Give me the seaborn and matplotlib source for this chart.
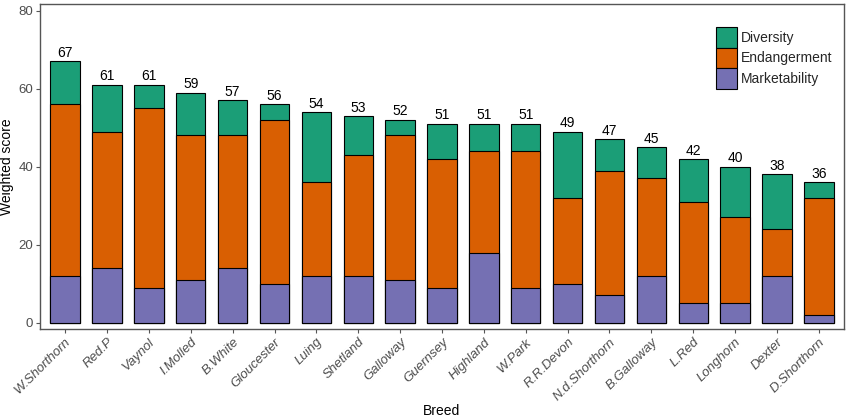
import matplotlib
matplotlib.use("Agg")
import matplotlib.pyplot as plt
import matplotlib.patches as mpatches
import numpy as np
import seaborn as sns

breeds = ["W.Shorthorn", "Red.P", "Vaynol", "I.Molled", "B.White", "Gloucester",
          "Luing", "Shetland", "Galloway", "Guernsey", "Highland", "W.Park",
          "R.R.Devon", "N.d.Shorthorn", "B.Galloway", "L.Red", "Longhorn",
          "Dexter", "D.Shorthorn"]
marketability = [12, 14, 9, 11, 14, 10, 12, 12, 11, 9, 18, 9, 10, 7, 12, 5, 5, 12, 2]
endangerment = [44, 35, 46, 37, 34, 42, 24, 31, 37, 33, 26, 35, 22, 32, 25, 26, 22, 12, 30]
diversity = [11, 12, 6, 11, 9, 4, 18, 10, 4, 9, 7, 7, 17, 8, 8, 11, 13, 14, 4]

col_div = "#1B9E77"
col_end = "#D95F02"
col_mkt = "#7570B3"

sns.set_style("white")
plt.rcParams["font.family"] = ["Liberation Sans", "DejaVu Sans"]

m = np.array(marketability)
me = m + np.array(endangerment)
total = me + np.array(diversity)

fig = plt.figure(figsize=(8.49, 4.17), dpi=100)
ax = fig.add_axes([40 / 849, 88 / 417, 804 / 849, 325 / 417])

# stacked bars drawn as layers: total, then marketability+endangerment, then marketability
sns.barplot(x=breeds, y=total, color=col_div, saturation=1, width=0.7,
            edgecolor="black", linewidth=0.8, errorbar=None, ax=ax)
sns.barplot(x=breeds, y=me, color=col_end, saturation=1, width=0.7,
            edgecolor="black", linewidth=0.8, errorbar=None, ax=ax)
sns.barplot(x=breeds, y=m, color=col_mkt, saturation=1, width=0.7,
            edgecolor="black", linewidth=0.8, errorbar=None, ax=ax)

ax.bar_label(ax.containers[0], labels=[str(t) for t in total], padding=1,
             fontsize=10, color="black")

ax.set_ylim(-1.6, 81.7)
ax.set_xlim(-0.6, len(breeds) - 0.4)
ax.set_yticks([0, 20, 40, 60, 80])
ax.set_ylabel("Weighted score", fontsize=10, color="black", labelpad=3)
ax.set_xlabel("Breed", fontsize=10, color="black", labelpad=1)

for s in ax.spines.values():
    s.set_color("#555555")
    s.set_linewidth(1)

ax.tick_params(axis="both", which="both", length=3, width=0.8, color="#555555",
               labelcolor="#4D4D4D", labelsize=9.5, bottom=True, left=True, pad=2)
for lab in ax.get_xticklabels():
    lab.set_rotation(45)
    lab.set_ha("right")
    lab.set_rotation_mode("anchor")
    lab.set_style("italic")

handles = [mpatches.Patch(facecolor=c, edgecolor="black", linewidth=0.8, label=l)
           for c, l in [(col_div, "Diversity"), (col_end, "Endangerment"),
                        (col_mkt, "Marketability")]]
ax.legend(handles=handles, loc="upper left", bbox_to_anchor=(0.841, 0.929),
          frameon=False, fontsize=10, handlelength=1.5, handleheight=1.9,
          labelspacing=0.0, handletextpad=0.25, borderpad=0, borderaxespad=0)

fig.savefig("out.png", dpi=100)
